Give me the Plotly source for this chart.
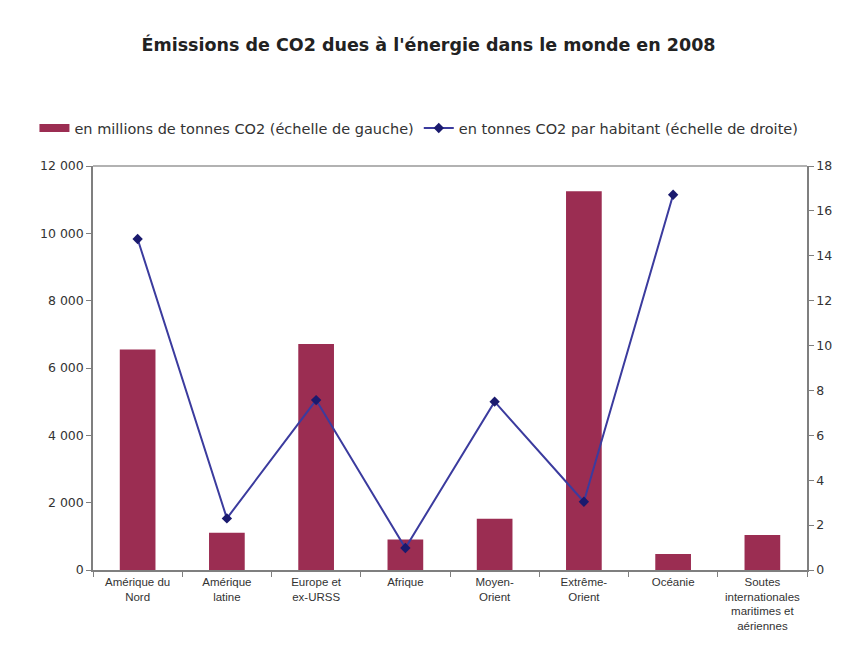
import plotly.graph_objects as go

categories = ["Amérique du<br>Nord", "Amérique<br>latine", "Europe et<br>ex-URSS", "Afrique",
              "Moyen-<br>Orient", "Extrême-<br>Orient", "Océanie",
              "Soutes<br>internationales<br>maritimes et<br>aériennes"]
emissions_mt = [6550, 1105, 6710, 905, 1520, 11250, 475, 1040]
per_capita_t = [14.75, 2.3, 7.57, 0.98, 7.5, 3.04, 16.72, None]
left_ticks = [0, 2000, 4000, 6000, 8000, 10000, 12000]
left_ticktext = ["0", "2 000", "4 000", "6 000", "8 000", "10 000", "12 000"]
right_ticks = [0, 2, 4, 6, 8, 10, 12, 14, 16, 18]

name_bar = "en millions de tonnes CO2 (échelle de gauche)"
name_line = "en tonnes CO2 par habitant (échelle de droite)"
title = "Émissions de CO2 dues à l'énergie dans le monde en 2008"

bar_col = "#9B2D52"
fig = go.Figure()
fig.add_trace(go.Bar(x=categories, y=emissions_mt, name=name_bar, showlegend=False,
                     marker=dict(color=bar_col, line=dict(width=0)), width=0.4))
# legend entry for the bars, drawn as a wide swatch
fig.add_trace(go.Scatter(x=[None], y=[None], name=name_bar, mode="lines",
                         line=dict(color=bar_col, width=8)))
fig.add_trace(go.Scatter(x=categories, y=per_capita_t, name=name_line, yaxis="y2",
                         mode="lines+markers",
                         line=dict(color="#3B3B9E", width=2),
                         marker=dict(symbol="diamond", size=8, color="#1A1A6E")))

axis_col = "#7f7f7f"
fnt = "DejaVu Sans, Arial, sans-serif"
fig.update_layout(
    width=841, height=640,
    paper_bgcolor="white", plot_bgcolor="white",
    margin=dict(l=85, r=42, t=158, b=78),
    font=dict(family=fnt, size=12, color="#333333"),
    title=dict(text="<b>" + title + "</b>", x=0.5, xanchor="center", y=1 - 37 / 640,
               yanchor="middle", font=dict(size=17.5, color="#222222", family=fnt)),
    showlegend=True,
    legend=dict(orientation="h", x=-0.082, xanchor="left", y=1 + 38 / 404, yanchor="middle",
                font=dict(size=14.5, color="#333333"), bgcolor="rgba(0,0,0,0)",
                itemwidth=30, tracegroupgap=0),
    xaxis=dict(showline=True, linecolor=axis_col, linewidth=1.5, ticks="outside",
               tickson="boundaries", ticklen=5, tickcolor=axis_col, automargin=False,
               tickangle=0,
               tickfont=dict(size=11.5, family="Liberation Sans, Arial, sans-serif"),
               showgrid=False, zeroline=False),
    yaxis=dict(range=[0, 12000], tickvals=left_ticks, ticktext=left_ticktext,
               showline=True, linecolor=axis_col, linewidth=1.5, ticks="outside",
               ticklen=5, tickcolor=axis_col, showgrid=False, zeroline=False,
               automargin=False, tickfont=dict(size=12.5)),
    yaxis2=dict(range=[0, 18], tickvals=right_ticks, overlaying="y", side="right",
                showline=True, linecolor=axis_col, linewidth=1.5, ticks="outside",
                ticklen=5, tickcolor=axis_col, showgrid=False, zeroline=False,
                automargin=False, tickfont=dict(size=12.5)),
    shapes=[dict(type="line", xref="paper", yref="paper", x0=0, x1=1, y0=1, y1=1,
                 line=dict(color="#999999", width=1.5))],
)

fig.write_html("out.html")
